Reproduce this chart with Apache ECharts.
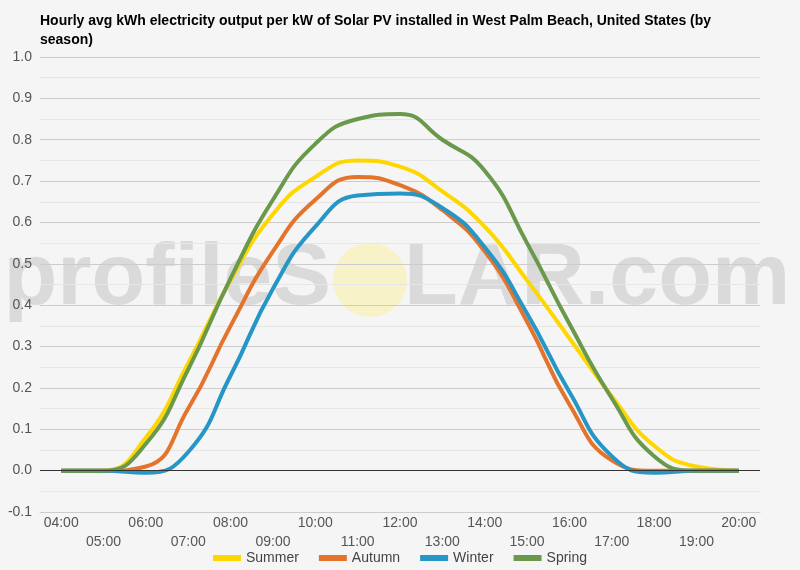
<!DOCTYPE html>
<html>
<head>
<meta charset="utf-8">
<script src="https://cdn.jsdelivr.net/npm/echarts@6/dist/echarts.min.js"></script>
<style>
  html, body { margin: 0; padding: 0; background: #f5f5f5; }
  #main { width: 800px; height: 570px; }
</style>
</head>
<body>
<div id="main"></div>
<script>
// hours on the x axis
const hours = ['04:00', '05:00', '06:00', '07:00', '08:00', '09:00', '10:00', '11:00', '12:00',
  '13:00', '14:00', '15:00', '16:00', '17:00', '18:00', '19:00', '20:00'];

// kWh per kW
const summer = [0, 0, 0.08, 0.26, 0.46, 0.62, 0.71, 0.75, 0.735, 0.675, 0.59, 0.46, 0.32, 0.18, 0.06, 0.01, 0];
const autumn = [0, 0, 0.01, 0.15, 0.35, 0.53, 0.655, 0.71, 0.69, 0.63, 0.53, 0.36, 0.16, 0.025, 0, 0, 0];
const winter = [0, 0, -0.005, 0.045, 0.23, 0.44, 0.59, 0.665, 0.67, 0.635, 0.54, 0.38, 0.19, 0.035, -0.005, 0, 0];
const spring = [0, 0, 0.065, 0.245, 0.465, 0.655, 0.79, 0.85, 0.862, 0.8, 0.725, 0.55, 0.355, 0.175, 0.035, 0, 0];

const seriesNames = ['Summer', 'Autumn', 'Winter', 'Spring'];
const seriesData = [summer, autumn, winter, spring];
const colors = ['#ffd700', '#e4742b', '#2596c6', '#6a994c'];

const font = 'Arial, "Liberation Sans", sans-serif';

const chart = echarts.init(document.getElementById('main'));

const series = seriesNames.map(function (name, i) {
  const s = {
    name: name,
    type: 'line',
    smooth: 0.5,
    smoothConstraint: false,
    symbol: 'none',
    lineStyle: { width: 4 },
    data: seriesData[i]
  };
  if (i === 0) {
    // black line at zero
    s.markLine = {
      silent: true,
      symbol: 'none',
      label: { show: false },
      lineStyle: { color: '#333', width: 1, type: 'solid' },
      data: [{ yAxis: 0 }]
    };
  }
  return s;
});

const option = {
  backgroundColor: '#f5f5f5',
  color: colors,
  title: {
    text: 'Hourly avg kWh electricity output per kW of Solar PV installed in West Palm Beach, United States (by\nseason)',
    left: 35,
    top: 7,
    textStyle: {
      fontFamily: font,
      fontSize: 14,
      fontWeight: 'bold',
      color: '#000',
      lineHeight: 19
    }
  },
  graphic: [
    {
      type: 'text',
      z: -1,
      x: 331,
      y: 280,
      style: {
        text: 'profileS',
        fill: 'rgba(195,195,195,0.55)',
        font: 'bold 88px Arial, "Liberation Sans", sans-serif',
        align: 'right',
        verticalAlign: 'middle'
      }
    },
    {
      type: 'circle',
      z: -1,
      shape: { cx: 370, cy: 280, r: 37 },
      style: { fill: 'rgba(250,240,170,0.6)' }
    },
    {
      type: 'text',
      z: -1,
      x: 404,
      y: 280,
      style: {
        text: 'LAR.com',
        fill: 'rgba(195,195,195,0.55)',
        font: 'bold 88px Arial, "Liberation Sans", sans-serif',
        align: 'left',
        verticalAlign: 'middle'
      }
    }
  ],
  legend: {
    bottom: 0,
    left: 'center',
    icon: 'rect',
    itemWidth: 28,
    itemHeight: 6,
    itemGap: 20,
    textStyle: { fontSize: 14, color: '#444', fontFamily: font },
    data: seriesNames
  },
  grid: {
    left: 40,
    right: 40,
    top: 57,
    bottom: 58,
    containLabel: false
  },
  xAxis: {
    type: 'category',
    data: hours,
    boundaryGap: true,
    axisLine: { onZero: false, lineStyle: { color: '#ccc' } },
    axisTick: { show: false },
    axisLabel: {
      interval: 0,
      color: '#555',
      fontSize: 14,
      lineHeight: 19,
      margin: 2,
      fontFamily: font,
      formatter: function (value, index) {
        return index % 2 === 1 ? '\n' + value : value;
      }
    }
  },
  yAxis: {
    type: 'value',
    min: -0.1,
    max: 1.0,
    interval: 0.1,
    axisLine: { show: false },
    axisTick: { show: false },
    axisLabel: {
      color: '#555',
      fontSize: 14,
      margin: 8,
      fontFamily: font,
      formatter: function (v) { return v.toFixed(1); }
    },
    splitLine: { lineStyle: { color: '#cccccc' } },
    minorTick: { show: false, splitNumber: 2 },
    minorSplitLine: { show: true, lineStyle: { color: '#e6e6e6' } }
  },
  series: series
};

chart.setOption(option);
</script>
</body>
</html>
